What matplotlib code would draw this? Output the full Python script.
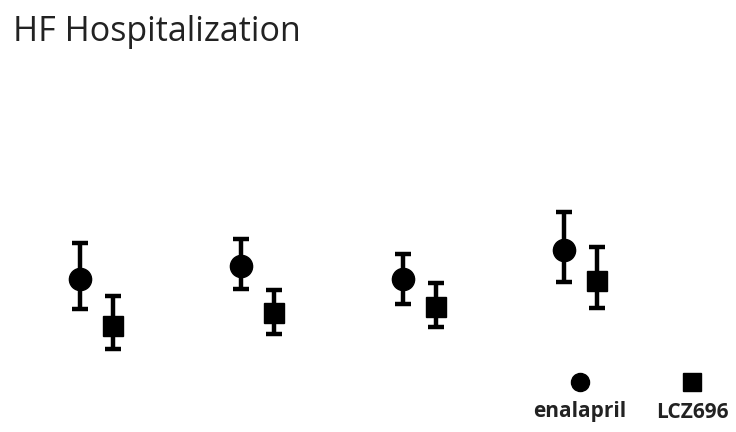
import matplotlib
matplotlib.use('Agg')
from matplotlib import pyplot as plt
import numpy as np

# arbitrary units (no axis shown)
groups = ['1', '2', '3', '4']
enal = [153, 166, 153, 182]
enal_lo = [123, 143, 128, 150]
enal_hi = [189, 193, 178, 220]
lcz = [106, 119, 125, 151]
lcz_lo = [83, 98, 105, 124]
lcz_hi = [136, 142, 149, 185]
series_names = ['enalapril', 'LCZ696']

plt.rcParams['font.family'] = ['Open Sans', 'DejaVu Sans']
fig = plt.figure(figsize=(7.36, 4.32), dpi=100)
ax = fig.add_axes([0, 0, 1, 1])
x = np.arange(len(groups))
off = 0.205

e = np.array(enal)
l = np.array(lcz)
ax.errorbar(x, e, yerr=[e - np.array(enal_lo), np.array(enal_hi) - e],
            fmt='o', color='black', ms=16, elinewidth=3.2, capsize=6, capthick=3.2)
ax.errorbar(x + off, l, yerr=[l - np.array(lcz_lo), np.array(lcz_hi) - l],
            fmt='s', color='black', ms=15, elinewidth=3.2, capsize=6, capthick=3.2)

ax.set_xlim(-0.496, 4.067)
ax.set_ylim(0, 432)
ax.axis('off')

fig.text(13 / 736, 1 - 32 / 432, 'HF Hospitalization', fontsize=24.5, va='center',
         ha='left', color='#222222')

# legend
for name, mk, px in zip(series_names, ['o', 's'], [580, 692]):
    ax.plot([px / 736], [1 - 382 / 432], marker=mk, color='black', ms=13,
            transform=ax.transAxes, clip_on=False)
    fig.text(px / 736, 1 - 412 / 432, name, fontsize=15, fontweight='bold',
             ha='center', va='center', color='#222222')

fig.savefig('out.png', dpi=100)
